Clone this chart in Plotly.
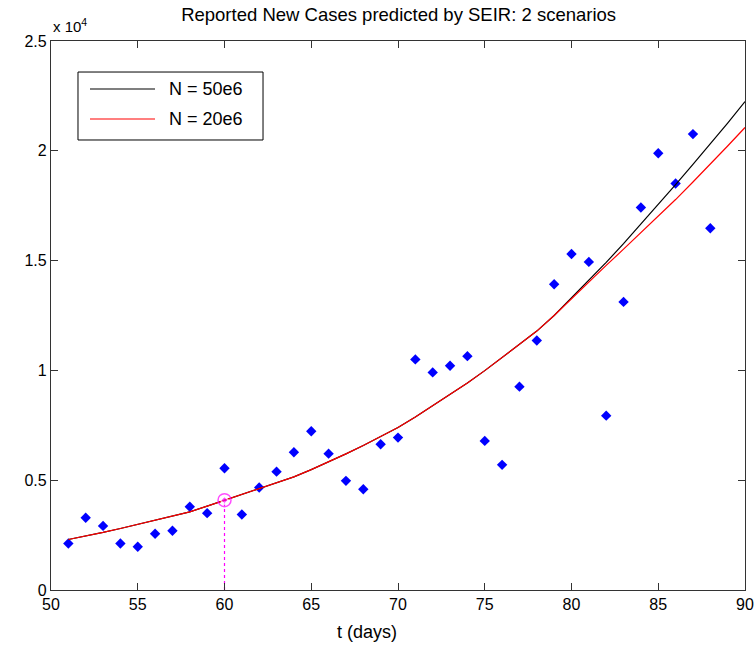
"""
SEIR reported new cases: observed points vs two model scenarios
"""
import plotly.graph_objects as go

# observed reported new cases
days = list(range(51, 89))
cases = [2120, 3290, 2920, 2120, 1970, 2560, 2700, 3790, 3500, 5545,
         3440, 4670, 5390, 6270, 7230, 6210, 4970, 4590, 6640, 6940,
         10500, 9910, 10210, 10650, 6790, 5700, 9260, 11360, 13920, 15300,
         14940, 7940, 13120, 17420, 19890, 18510, 20760, 16470]

# model curves (days 51..90), identical until ~day 80
t_model = list(range(51, 91))
common = [2300, 2450, 2620, 2800, 2985, 3170, 3360, 3560, 3820, 4090,
          4350, 4620, 4880, 5150, 5480, 5830, 6200, 6580, 6980, 7400,
          7880, 8400, 8900, 9430, 9990, 10590, 11190, 11790, 12500]
tail_50 = [13300, 14100, 14920, 15770, 16650, 17550, 18460, 19380, 20310,
           21260, 22240]
tail_20 = [13270, 14030, 14780, 15520, 16270, 17020, 17780, 18580, 19390,
           20220, 21060]
n50 = common + tail_50
n20 = common + tail_20

# highlighted point
t_mark = 60
y_mark = 4090

FONT = "Liberation Sans, Arial, sans-serif"
AXIS_COLOR = "#333333"

fig = go.Figure()

fig.add_trace(go.Scatter(
    x=[t_mark, t_mark], y=[0, y_mark], mode="lines",
    line=dict(color="#ff00ff", width=1.2, dash="dot")))

fig.add_trace(go.Scatter(
    x=days, y=cases, mode="markers",
    marker=dict(symbol="diamond", size=8, color="#0000ff")))

fig.add_trace(go.Scatter(
    x=t_model, y=n50, mode="lines", line=dict(color="black", width=1.2),
    name="N = 50e6"))
fig.add_trace(go.Scatter(
    x=t_model, y=n20, mode="lines", line=dict(color="#ff0000", width=1.2),
    name="N = 20e6"))

fig.add_trace(go.Scatter(
    x=[t_mark, t_mark], y=[y_mark, y_mark], mode="markers",
    marker=dict(symbol=["circle-open", "diamond"], size=[13, 6], color="#ff00ff",
                line=dict(width=1.5))))

# legend drawn MATLAB style
shapes = [
    dict(type="rect", xref="paper", yref="paper", x0=0.0389, x1=0.3055,
         y0=0.8197, y1=0.9435, line=dict(color="black", width=1), fillcolor="white"),
    dict(type="line", xref="paper", yref="paper", x0=0.0562, x1=0.1499,
         y0=0.9126, y1=0.9126, line=dict(color="black", width=1.2)),
    dict(type="line", xref="paper", yref="paper", x0=0.0562, x1=0.1499,
         y0=0.8579, y1=0.8579, line=dict(color="#ff0000", width=1.2)),
]
annotations = [
    dict(text="N = 50e6", xref="paper", yref="paper", x=0.1671, y=0.9126,
         xanchor="left", yanchor="middle", showarrow=False, font=dict(size=18)),
    dict(text="N = 20e6", xref="paper", yref="paper", x=0.1671, y=0.8579,
         xanchor="left", yanchor="middle", showarrow=False, font=dict(size=18)),
    dict(text="x 10<sup>4</sup>", xref="paper", yref="paper", x=0.0, y=1.0,
         xanchor="left", yanchor="bottom", yshift=4, showarrow=False,
         font=dict(size=15)),
    dict(text="t (days)", xref="paper", yref="paper", x=0.455, y=-0.0765,
         xanchor="center", yanchor="middle", showarrow=False,
         font=dict(size=18)),
]

fig.update_layout(
    width=755, height=652,
    margin=dict(l=51, r=10, t=41, b=62),
    paper_bgcolor="white", plot_bgcolor="white",
    font=dict(family=FONT, size=16, color="black"),
    title=dict(text="Reported New Cases predicted by SEIR: 2 scenarios",
               x=0.528, xanchor="center", y=0.977, yanchor="middle",
               font=dict(size=18.5)),
    shapes=shapes, annotations=annotations,
    showlegend=False,
)
fig.update_xaxes(
    range=[50, 90], tickvals=list(range(50, 91, 5)),
    ticks="inside", ticklen=7, tickcolor=AXIS_COLOR, tickwidth=1.3,
    showline=True, linecolor=AXIS_COLOR, linewidth=1.3, mirror="ticks",
    showgrid=False, zeroline=False, automargin=False,
    ticklabeloverflow="allow",
)
fig.update_yaxes(
    range=[0, 25000], tickvals=[0, 5000, 10000, 15000, 20000, 25000],
    ticktext=["0", "0.5", "1", "1.5", "2", "2.5"],
    ticks="inside", ticklen=7, tickcolor=AXIS_COLOR, tickwidth=1.3,
    showline=True, linecolor=AXIS_COLOR, linewidth=1.3, mirror="ticks",
    showgrid=False, zeroline=False, automargin=False,
)

# drop the browser's default body margin so the figure fills the window
fig.write_html("out.html", config={"displayModeBar": False},
               post_script="document.body.style.margin = '0';")
